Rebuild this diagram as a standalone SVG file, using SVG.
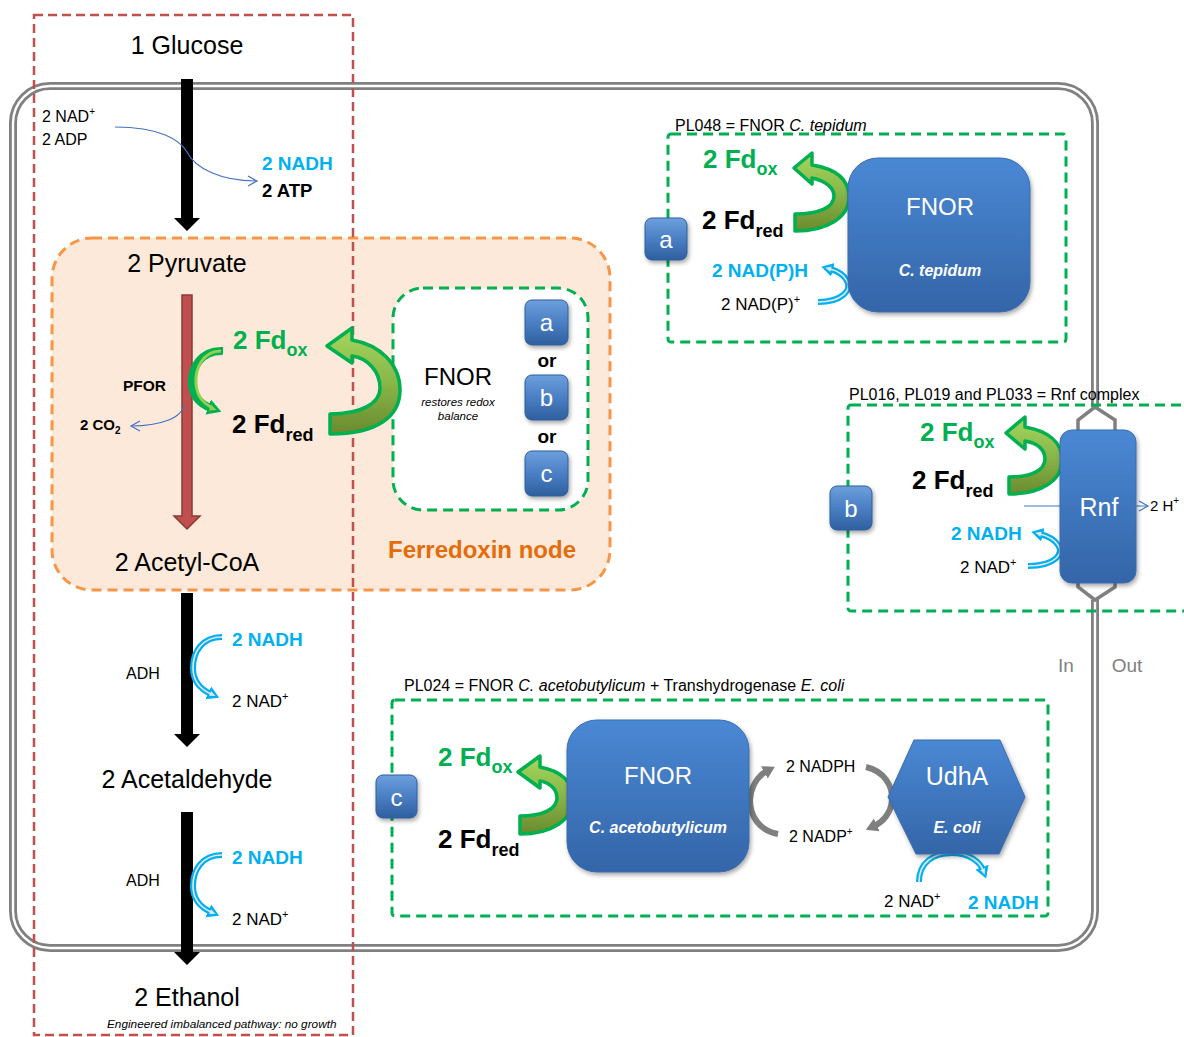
<svg xmlns="http://www.w3.org/2000/svg" width="1184" height="1037" viewBox="0 0 1184 1037">
<defs>
<style>
text{font-family:"Liberation Sans",Arial,sans-serif;fill:#000}
.big{font-size:25px;text-anchor:middle}
.s16{font-size:16px}
.s17{font-size:17px}
.b{font-weight:bold}
.cy{fill:#00b0f0;font-weight:bold;font-size:19px}
.fd{font-weight:bold;font-size:26px}
.w{fill:#fff;text-anchor:middle}
.wi{fill:#fff;text-anchor:middle;font-weight:bold;font-style:italic;font-size:16px}
.dashG{fill:none;stroke:#00b050;stroke-width:3;stroke-dasharray:10 6}
.box{fill:url(#gBox);stroke:#3a6cad;stroke-width:1;filter:url(#sh)}
.sq{fill:url(#gSq);stroke:#2f5f9e;stroke-width:1;filter:url(#sh)}
.sqt{fill:#fff;font-size:24px;text-anchor:middle}
.bigG{fill:url(#gGreen);stroke:#00b050;stroke-width:3.5;stroke-linejoin:round}
.cyb{fill:none;stroke:#00b0f0;stroke-width:6}
.gyb{fill:none;stroke:#7f7f7f;stroke-width:6}
.grb{fill:none;stroke:#00b050;stroke-width:8}
.inr{fill:none;stroke:#e6e6e6;stroke-width:1.6}
.inrg{fill:none;stroke:#92d050;stroke-width:3}
.thin{fill:none;stroke:#4472c4;stroke-width:1.2}
.blk{fill:#000}
</style>
<linearGradient id="gBox" x1="0" y1="0" x2="0" y2="1"><stop offset="0" stop-color="#4a88d4"/><stop offset="1" stop-color="#3465a8"/></linearGradient>
<linearGradient id="gSq" x1="0" y1="0" x2="0" y2="1"><stop offset="0" stop-color="#6d9fdc"/><stop offset="0.5" stop-color="#4a7fc4"/><stop offset="1" stop-color="#2f5f9e"/></linearGradient>
<linearGradient id="gGreen" x1="0" y1="0" x2="0" y2="1"><stop offset="0" stop-color="#a4d65e"/><stop offset="0.5" stop-color="#88b84a"/><stop offset="1" stop-color="#6b8a2e"/></linearGradient>
<filter id="sh" x="-20%" y="-20%" width="150%" height="150%"><feDropShadow dx="1.5" dy="2.5" stdDeviation="2" flood-color="#000" flood-opacity="0.35"/></filter>
<marker id="mC" markerUnits="userSpaceOnUse" markerWidth="14" markerHeight="16" refX="3" refY="8" orient="auto"><path d="M0,1 L12,8 L0,15 Z" fill="#00b0f0"/><path d="M2,5.5 L8,8 L2,10.5 Z" fill="#e6e6e6"/></marker>
<marker id="mG" markerUnits="userSpaceOnUse" markerWidth="14" markerHeight="16" refX="3" refY="8" orient="auto"><path d="M0,1 L12,8 L0,15 Z" fill="#7f7f7f"/></marker>
<marker id="mGr" markerUnits="userSpaceOnUse" markerWidth="16" markerHeight="18" refX="3" refY="9" orient="auto"><path d="M0,1 L14,9 L0,17 Z" fill="#00b050"/><path d="M2,6 L9,9 L2,12 Z" fill="#92d050"/></marker>
<marker id="mB" markerUnits="userSpaceOnUse" markerWidth="12" markerHeight="12" refX="10" refY="6" orient="auto"><path d="M1,1 L10,6 L1,11" fill="none" stroke="#4472c4" stroke-width="1.2"/></marker>
</defs>

<rect width="1184" height="1037" fill="#fff"/>

<!-- cell membrane -->
<g id="membrane">
<path d="M1095 407 L1095 123 A37 37 0 0 0 1058 86 L50 86 A37 37 0 0 0 13 123 L13 911 A37 37 0 0 0 50 948 L1058 948 A37 37 0 0 0 1095 911 L1095 600" fill="none" stroke="#808080" stroke-width="8"/>
<path d="M1095 407 L1095 123 A37 37 0 0 0 1058 86 L50 86 A37 37 0 0 0 13 123 L13 911 A37 37 0 0 0 50 948 L1058 948 A37 37 0 0 0 1095 911 L1095 600" fill="none" stroke="#fff" stroke-width="2.4"/>
<polygon points="1095,407 1115,420 1115,587 1095,600 1078,587 1078,420" fill="none" stroke="#808080" stroke-width="3.5"/>
<text x="1066" y="672" font-size="19" text-anchor="middle" style="fill:#7f7f7f">In</text>
<text x="1127" y="672" font-size="19" text-anchor="middle" style="fill:#7f7f7f">Out</text>
</g>

<!-- ferredoxin node -->
<g id="ferredoxin-node">
<rect x="52" y="238" width="558" height="352" rx="40" fill="#fde9d9" stroke="#f79646" stroke-width="3" stroke-dasharray="10 6"/>
<text x="482" y="558" font-size="24" font-weight="bold" text-anchor="middle" style="fill:#e46c0a">Ferredoxin node</text>
</g>

<!-- engineered pathway box -->
<g id="pathway-box">
<rect x="34" y="15" width="319" height="1020" fill="none" stroke="#c0504d" stroke-width="2.5" stroke-dasharray="9 5"/>
<text x="107" y="1028" font-size="11.8" font-style="italic">Engineered imbalanced pathway: no growth</text>
</g>

<!-- metabolites -->
<g id="glucose"><text class="big" x="187" y="54">1 Glucose</text></g>
<g id="pyruvate"><text class="big" x="187" y="272">2 Pyruvate</text></g>
<g id="acetylcoa"><text class="big" x="187" y="571">2 Acetyl-CoA</text></g>
<g id="acetaldehyde"><text class="big" x="187" y="788">2 Acetaldehyde</text></g>
<g id="ethanol"><text class="big" x="187" y="1006">2 Ethanol</text></g>

<g id="fnor-node">
<rect x="393" y="288" width="195" height="222" rx="30" class="dashG" style="fill:#fff"/>
<text x="458" y="385" font-size="24" text-anchor="middle">FNOR</text>
<text x="458" y="406" font-size="11.5" font-style="italic" text-anchor="middle">restores redox</text>
<text x="458" y="420" font-size="11.5" font-style="italic" text-anchor="middle">balance</text>
<rect class="sq" x="525" y="300" width="43" height="45" rx="7"/><text class="sqt" x="546.5" y="331">a</text>
<text x="547" y="367" font-size="19" font-weight="bold" text-anchor="middle">or</text>
<rect class="sq" x="525" y="375" width="43" height="45" rx="7"/><text class="sqt" x="546.5" y="406">b</text>
<text x="547" y="443" font-size="19" font-weight="bold" text-anchor="middle">or</text>
<rect class="sq" x="525" y="451" width="43" height="45" rx="7"/><text class="sqt" x="546.5" y="482">c</text>
</g>

<!-- PL048 -->
<g id="pl048">
<text x="675" y="131" font-size="16">PL048 = FNOR <tspan font-style="italic">C. tepidum</tspan></text>
<rect class="dashG" x="668" y="134" width="398" height="208" rx="3"/>
<rect class="sq" x="645" y="218" width="42" height="42" rx="7"/><text class="sqt" x="666" y="248">a</text>
</g>

<!-- Rnf -->
<g id="rnf-group">
<text x="849" y="400" font-size="16">PL016, PL019 and PL033 = Rnf complex</text>
<rect class="dashG" x="848" y="405" width="360" height="206" rx="3"/>
<rect class="sq" x="830" y="486" width="42" height="44" rx="7"/><text class="sqt" x="851" y="517">b</text>
</g>

<!-- PL024 -->
<g id="pl024">
<text x="404" y="691" font-size="16">PL024 = FNOR <tspan font-style="italic">C. acetobutylicum</tspan> + Transhydrogenase <tspan font-style="italic">E. coli</tspan></text>
<rect class="dashG" x="392" y="700" width="656" height="216" rx="3"/>
<rect class="sq" x="376" y="775" width="41" height="43" rx="7"/><text class="sqt" x="396.5" y="806">c</text>
</g>

<!-- connectors -->
<g id="connectors">
<polygon class="blk" points="181,79 193,79 193,218 200,218 187,231 174,218 181,218"/>
<polygon class="blk" points="181,593 193,593 193,734 200,734 187,747 174,734 181,734"/>
<polygon class="blk" points="181,812 193,812 193,952 200,952 187,965 174,952 181,952"/>
<polygon points="182,295 192,295 192,516 200,516 187,529 174,516 182,516" fill="#c0504d" stroke="#8c3836" stroke-width="1.5"/>
<path class="thin" d="M115 127 C160 127 180 140 187 152 C195 168 220 181 257 181" marker-end="url(#mB)"/>
<path class="thin" d="M184 404 C183 418 160 426 131 426" marker-end="url(#mB)"/>
<path class="thin" d="M1024 506 L1148 506" marker-end="url(#mB)"/>

<!-- small green Fd arrow -->
<path class="grb" d="M223 351 C201 350 191 368 192 384 C193 397 200 404 211 408" marker-end="url(#mGr)"/>
<path class="inrg" d="M221 351 C203 351 195 368 196 384 C197 396 203 403 211 407"/>

<!-- big green arrows -->
<path class="bigG" d="M330 434 C378 434 400 416 400 390 C400 364 380 345 352 340 L352 328 L327 346 L352 363 L352 356 C368 358 380 372 380 388 C380 403 362 414 330 414 Z"/>
<path class="bigG" d="M795 231 C828 231 849 217 849 197 C849 180 837 169 812 165 L812 153 L794 168 L812 184 L812 178 C826 181 834 188 834 196 C834 207 820 214 795 214 Z"/>
<path class="bigG" d="M1009 494 C1042 494 1062 480 1062 460 C1062 442 1048 431 1025 427 L1025 417 L1006 433 L1025 449 L1025 441 C1038 443 1045 450 1045 459 C1045 470 1032 477 1009 477 Z"/>
<path class="bigG" d="M520 834 C552 834 573 820 573 798 C573 782 561 771 540 767 L540 756 L518 772 L540 788 L540 781 C551 783 557 790 557 798 C557 809 543 816 520 816 Z"/>

<!-- cyan NADH arrows -->
<path class="cyb" d="M818 302 C842 302 852 290 847 281 C844 275 838 271 830 269" marker-end="url(#mC)"/>
<path class="inr" d="M818 302 C842 302 852 290 847 281 C844 275 838 271 830 269"/>
<path class="cyb" d="M1028 566 C1056 566 1064 553 1058 545 C1054 539 1048 536 1040 534" marker-end="url(#mC)"/>
<path class="inr" d="M1028 566 C1056 566 1064 553 1058 545 C1054 539 1048 536 1040 534"/>
<path class="cyb" d="M222 637 C202 637 193 652 193 668 C193 681 200 689 211 694" marker-end="url(#mC)"/>
<path class="inr" d="M222 637 C202 637 193 652 193 668 C193 681 200 689 211 694"/>
<path class="cyb" d="M222 855 C202 855 193 870 193 886 C193 899 200 907 211 912" marker-end="url(#mC)"/>
<path class="inr" d="M222 855 C202 855 193 870 193 886 C193 899 200 907 211 912"/>
<path class="cyb" d="M919 882 C919 862 934 853 952 853 C969 853 980 862 983 870" marker-end="url(#mC)"/>
<path class="inr" d="M919 882 C919 862 934 853 952 853 C969 853 980 862 983 870"/>

<!-- gray NADPH arrows -->
<path class="gyb" d="M778 834 C758 830 750 815 750 800 C751 786 758 776 767 771" marker-end="url(#mG)"/>
<path class="gyb" d="M866 767 C884 771 893 786 892 800 C891 813 883 822 874 826" marker-end="url(#mG)"/>
</g>

<!-- enzymes -->
<g id="fnor-ctepidum">
<rect class="box" x="848" y="158" width="182" height="154" rx="30"/>
<text class="w" x="940" y="215" font-size="24">FNOR</text>
<text class="wi" x="940" y="276">C. tepidum</text>
</g>
<g id="rnf">
<rect class="box" x="1060" y="430" width="76" height="153" rx="12"/>
<text class="w" x="1099" y="516" font-size="25">Rnf</text>
</g>
<g id="fnor-cacetobutylicum">
<rect class="box" x="567" y="720" width="182" height="152" rx="30"/>
<text class="w" x="658" y="784" font-size="24">FNOR</text>
<text class="wi" x="658" y="833">C. acetobutylicum</text>
</g>
<g id="udha">
<polygon class="box" points="888,797 914,740 1000,740 1025,797 999,854 916,854"/>
<text class="w" x="957" y="785" font-size="25">UdhA</text>
<text class="wi" x="957" y="833">E. coli</text>
</g>

<!-- labels -->
<g id="labels">
<text class="s16" x="42" y="122">2 NAD<tspan dy="-7" font-size="10">+</tspan></text>
<text class="s16" x="42" y="145">2 ADP</text>
<text class="cy" x="262" y="170">2 NADH</text>
<text class="b" x="262" y="197" font-size="18.5">2 ATP</text>
<text class="b" x="123" y="391" font-size="15.5">PFOR</text>
<text class="b" x="80" y="430" font-size="15">2 CO<tspan dy="4" font-size="10">2</tspan></text>

<text class="fd" x="233" y="349" style="fill:#00b050">2 Fd<tspan dy="7" font-size="18">ox</tspan></text>
<text class="fd" x="232" y="433">2 Fd<tspan dy="8" font-size="18">red</tspan></text>

<text class="fd" x="703" y="168" style="fill:#00b050">2 Fd<tspan dy="7" font-size="18">ox</tspan></text>
<text class="fd" x="702" y="229">2 Fd<tspan dy="8" font-size="18">red</tspan></text>
<text class="cy" x="712" y="277">2 NAD(P)H</text>
<text class="s17" x="721" y="310">2 NAD(P)<tspan dy="-7" font-size="11">+</tspan></text>

<text class="fd" x="920" y="441" style="fill:#00b050">2 Fd<tspan dy="7" font-size="18">ox</tspan></text>
<text class="fd" x="912" y="489">2 Fd<tspan dy="8" font-size="18">red</tspan></text>
<text class="cy" x="951" y="540">2 NADH</text>
<text class="s17" x="960" y="573">2 NAD<tspan dy="-7" font-size="11">+</tspan></text>
<text x="1150" y="511" font-size="15">2 H<tspan dy="-7" font-size="10">+</tspan></text>

<text class="s16" x="126" y="679">ADH</text>
<text class="cy" x="232" y="646">2 NADH</text>
<text class="s17" x="232" y="707">2 NAD<tspan dy="-7" font-size="11">+</tspan></text>
<text class="s16" x="126" y="886">ADH</text>
<text class="cy" x="232" y="864">2 NADH</text>
<text class="s17" x="232" y="925">2 NAD<tspan dy="-7" font-size="11">+</tspan></text>

<text class="fd" x="438" y="766" style="fill:#00b050">2 Fd<tspan dy="7" font-size="18">ox</tspan></text>
<text class="fd" x="438" y="848">2 Fd<tspan dy="8" font-size="18">red</tspan></text>
<text class="s16" x="786" y="772">2 NADPH</text>
<text class="s16" x="789" y="842">2 NADP<tspan dy="-7" font-size="10">+</tspan></text>
<text class="s17" x="884" y="907">2 NAD<tspan dy="-7" font-size="11">+</tspan></text>
<text class="cy" x="968" y="909">2 NADH</text>
</g>
</svg>
